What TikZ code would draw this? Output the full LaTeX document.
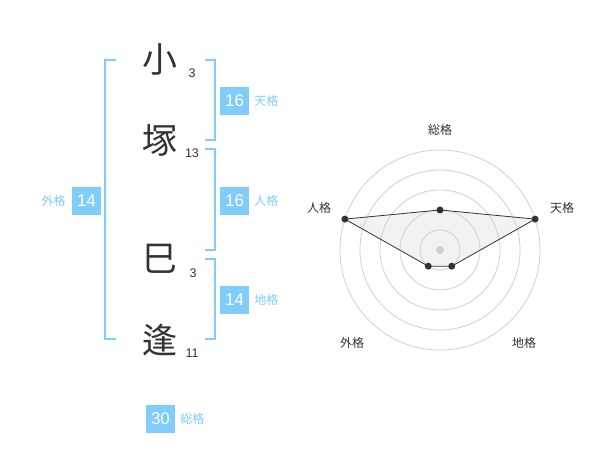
\documentclass[tikz,border=0pt]{standalone}
\usepackage{fontspec}
\setmainfont{Liberation Sans}
\newfontfamily\jp{Noto Sans CJK JP}
\usetikzlibrary{positioning}
\definecolor{sky}{HTML}{80CCFA}
\definecolor{ink}{HTML}{333333}
\definecolor{ring}{HTML}{D0D0D0}
\definecolor{area}{HTML}{F2F2F2}

\begin{document}
\begin{tikzpicture}[x=1pt,y=-1pt,
  kanji/.style={text=ink,font=\jp\fontsize{35}{35}\selectfont,inner sep=0pt},
  strokes/.style={text=ink,font=\fontsize{12.5}{12.5}\selectfont,inner sep=0pt},
  numbox/.style={fill=sky,text=white,minimum width=29pt,minimum height=28pt,inner sep=0pt,font=\fontsize{17}{17}\selectfont},
  kaku/.style={text=sky,font=\jp\fontsize{12}{12}\selectfont,inner sep=0pt},
  bracket/.style={draw=sky,line width=2pt},
  axislabel/.style={text=ink,font=\jp\fontsize{12}{12}\selectfont,inner sep=0pt},
  dot/.style={circle,fill=ink,inner sep=0pt,minimum size=7pt}]

\useasboundingbox [fill=white] (0,0) rectangle (600,470);

\node (ko) [kanji] at (160,59) {小};
\node (ko-n) [strokes] at (192,73) {3};
\node (tsuka) [kanji] at (160,140) {塚};
\node (tsuka-n) [strokes] at (192,153) {13};
\node (mi) [kanji] at (160,259) {巳};
\node (mi-n) [strokes] at (193,273) {3};
\node (hou) [kanji] at (160,340) {逢};
\node (hou-n) [strokes] at (192,353) {11};

\draw [bracket] (116,60) -- (105,60) -- (105,339) -- (116,339);
\draw [bracket] (205,60) -- (215,60) -- (215,140) -- (205,140);
\draw [bracket] (205,149) -- (215,149) -- (215,250) -- (205,250);
\draw [bracket] (205,259) -- (215,259) -- (215,339) -- (205,339);

\node (ten) [numbox] at (234.5,101) {16};
\node (ten-l) [kaku, right=5pt of ten] {天格};
\node (jin) [numbox] at (234.5,201) {16};
\node (jin-l) [kaku, right=5pt of jin] {人格};
\node (chi) [numbox] at (234.5,300) {14};
\node (chi-l) [kaku, right=5pt of chi] {地格};
\node (gai) [numbox] at (86.5,201) {14};
\node (gai-l) [kaku, left=6pt of gai] {外格};
\node (so) [numbox] at (160.5,419) {30};
\node (so-l) [kaku, right=5pt of so] {総格};

\begin{scope}[shift={(440,250)},y=1pt]
\coordinate (p-so) at (90:40);
\coordinate (p-ten) at (18:100);
\coordinate (p-chi) at (306:20);
\coordinate (p-gai) at (234:20);
\coordinate (p-jin) at (162:100);
\fill [area] (p-so) -- (p-ten) -- (p-chi) -- (p-gai) -- (p-jin) -- cycle;
\foreach \r in {20,40,60,80,100}
  \draw [ring,line width=0.8pt] (0,0) circle (\r);
\draw [ink,line width=0.8pt] (p-so) -- (p-ten) -- (p-chi) -- (p-gai) -- (p-jin) -- cycle;
\foreach \p in {so,ten,chi,gai,jin}
  \node [dot] at (p-\p) {};
\node (mid) [circle,fill=ring,inner sep=0pt,minimum size=8pt] at (0,0) {};
\node (a-so) [axislabel] at (0,120) {総格};
\node (a-ten) [axislabel] at (122,42) {天格};
\node (a-jin) [axislabel] at (-121,42) {人格};
\node (a-gai) [axislabel] at (-88,-93) {外格};
\node (a-chi) [axislabel] at (84,-93) {地格};
\end{scope}
\end{tikzpicture}
\end{document}
